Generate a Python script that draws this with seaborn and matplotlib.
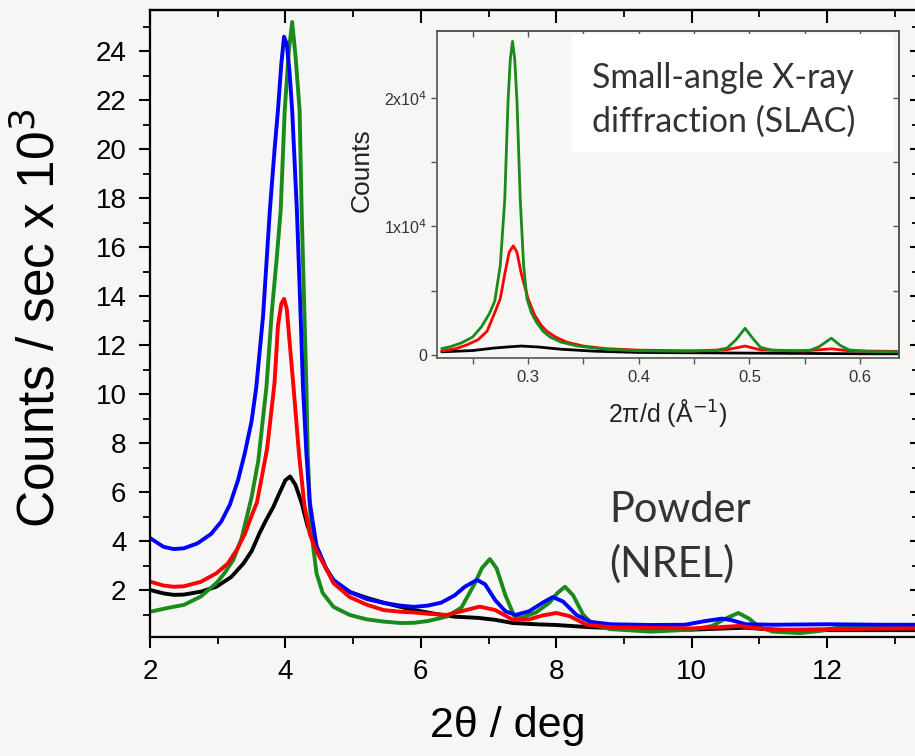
import matplotlib
matplotlib.use("Agg")
import matplotlib.pyplot as plt
import numpy as np
import pandas as pd
import seaborn as sns
from matplotlib.ticker import MultipleLocator, FixedLocator, FormatStrFormatter
from matplotlib.patches import Rectangle

sns.set_theme(style="ticks")
plt.rcParams["font.family"] = ["Liberation Sans", "DejaVu Sans"]

# ---------------- main panel data (2theta / deg, counts/sec x 1e3) ----------------
blue_x = [2.0, 2.2, 2.35, 2.5, 2.7, 2.9, 3.05, 3.18, 3.3, 3.4, 3.5, 3.57, 3.67, 3.77, 3.84, 3.89, 3.94,
          3.98, 4.02, 4.06, 4.10, 4.17, 4.22, 4.26, 4.31, 4.36, 4.46, 4.6, 4.71, 4.95, 5.2, 5.45, 5.7,
          5.9, 6.1, 6.3, 6.5, 6.65, 6.83, 6.95, 7.1, 7.25, 7.4, 7.6, 7.8, 7.95, 8.1, 8.3, 8.5, 8.8,
          9.4, 9.9, 10.2, 10.45, 10.6, 10.8, 11.2, 12.0, 12.8, 13.4]
blue_y = [4.14, 3.78, 3.69, 3.72, 3.92, 4.3, 4.8, 5.5, 6.5, 7.6, 8.9, 10.3, 13.2, 17.5, 20.0, 21.6,
          23.5, 24.6, 24.3, 23.2, 21.6, 17.5, 13.6, 10.3, 7.6, 5.6, 3.8, 2.9, 2.43, 1.94, 1.65, 1.49,
          1.38, 1.33, 1.38, 1.5, 1.8, 2.15, 2.43, 2.25, 1.6, 1.15, 1.0, 1.15, 1.5, 1.73, 1.55, 1.0,
          0.72, 0.62, 0.59, 0.6, 0.75, 0.85, 0.78, 0.62, 0.6, 0.62, 0.6, 0.6]

green_x = [2.0, 2.25, 2.5, 2.75, 2.98, 3.1, 3.23, 3.35, 3.43, 3.5, 3.6, 3.72, 3.80, 3.87, 3.93, 3.99,
           4.05, 4.10, 4.15, 4.21, 4.24, 4.28, 4.31, 4.33, 4.36, 4.40, 4.46, 4.55, 4.71, 4.95, 5.2, 5.45,
           5.7, 5.9, 6.1, 6.38, 6.6, 6.8, 6.9, 7.02, 7.12, 7.25, 7.38, 7.5, 7.7, 7.9, 8.02, 8.13, 8.25,
           8.4, 8.55, 8.8, 9.4, 10.0, 10.3, 10.5, 10.69, 10.85, 11.0, 11.2, 11.6, 11.9, 12.2, 13.4]
green_y = [1.13, 1.28, 1.41, 1.75, 2.3, 2.7, 3.25, 4.1, 5.0, 5.8, 7.3, 10.3, 13.4, 15.5, 17.5, 21.6,
           24.0, 25.2, 23.8, 21.6, 17.5, 13.4, 10.3, 7.6, 5.5, 4.0, 2.7, 1.9, 1.33, 1.0, 0.82, 0.73,
           0.67, 0.68, 0.75, 0.93, 1.3, 2.3, 2.9, 3.28, 2.9, 1.8, 0.95, 0.9, 1.1, 1.5, 1.9, 2.15, 1.8,
           1.0, 0.6, 0.42, 0.32, 0.4, 0.55, 0.85, 1.08, 0.85, 0.5, 0.32, 0.26, 0.35, 0.5, 0.55]

red_x = [2.0, 2.2, 2.35, 2.5, 2.75, 2.98, 3.15, 3.28, 3.4, 3.48, 3.58, 3.67, 3.73, 3.78, 3.84, 3.89,
         3.94, 3.98, 4.02, 4.06, 4.12, 4.2, 4.28, 4.36, 4.46, 4.6, 4.71, 4.95, 5.2, 5.45, 5.7, 5.9, 6.1,
         6.38, 6.6, 6.87, 7.1, 7.36, 7.6, 7.8, 8.0, 8.2, 8.45, 8.8, 9.4, 10.0, 10.4, 10.7, 11.0, 11.35,
         12.0, 12.83, 13.4]
red_y = [2.36, 2.2, 2.15, 2.17, 2.35, 2.7, 3.1, 3.65, 4.3, 4.9, 5.6, 6.9, 7.8, 9.0, 10.5, 12.8,
         13.7, 13.9, 13.5, 12.2, 10.3, 7.6, 5.5, 4.3, 3.6, 2.9, 2.3, 1.73, 1.42, 1.2, 1.13, 1.1, 1.05,
         1.0, 1.15, 1.34, 1.2, 0.8, 0.82, 0.98, 1.08, 0.95, 0.6, 0.5, 0.47, 0.45, 0.5, 0.55, 0.45, 0.39,
         0.42, 0.44, 0.45]

black_x = [2.0, 2.2, 2.35, 2.5, 2.75, 2.98, 3.2, 3.38, 3.5, 3.62, 3.72, 3.82, 3.9, 4.0, 4.07, 4.15,
           4.24, 4.33, 4.46, 4.6, 4.71, 4.95, 5.2, 5.45, 5.7, 5.9, 6.2, 6.5, 6.85, 7.1, 7.36, 7.7, 8.0,
           8.5, 9.0, 9.5, 10.0, 10.5, 10.8, 11.2, 12.0, 12.8, 13.4]
black_y = [2.02, 1.88, 1.82, 1.83, 1.95, 2.15, 2.55, 3.1, 3.6, 4.35, 4.9, 5.4, 5.9, 6.5, 6.65, 6.3,
           5.57, 4.6, 3.8, 2.9, 2.4, 1.94, 1.7, 1.5, 1.33, 1.2, 1.05, 0.93, 0.88, 0.8, 0.67, 0.62, 0.59,
           0.5, 0.45, 0.42, 0.4, 0.45, 0.48, 0.4, 0.38, 0.38, 0.38]

# ---------------- inset data (2pi/d in 1/A, counts) ----------------
in_green_x = [0.222, 0.230, 0.240, 0.250, 0.258, 0.265, 0.270, 0.275, 0.279, 0.282, 0.284, 0.286,
              0.288, 0.290, 0.293, 0.296, 0.299, 0.303, 0.308, 0.3136, 0.320, 0.330, 0.345, 0.370,
              0.400, 0.440, 0.470, 0.480, 0.488, 0.496, 0.503, 0.510, 0.520, 0.540, 0.555, 0.563,
              0.574, 0.582, 0.590, 0.610, 0.636]
in_green_y = [500, 650, 950, 1400, 2200, 3200, 4200, 7000, 12100, 19800, 23000, 24400, 23000, 19800,
              12100, 7000, 4400, 3300, 2500, 1850, 1400, 1000, 700, 450, 330, 300, 350, 550, 1200,
              2080, 1300, 600, 380, 320, 380, 650, 1310, 750, 400, 260, 250]
in_red_x = [0.222, 0.235, 0.245, 0.255, 0.263, 0.270, 0.275, 0.279, 0.283, 0.2867, 0.290, 0.294,
            0.300, 0.306, 0.312, 0.317, 0.325, 0.335, 0.350, 0.370, 0.400, 0.450, 0.480, 0.496,
            0.510, 0.550, 0.574, 0.590, 0.636]
in_red_y = [300, 500, 800, 1200, 1850, 3300, 4400, 6300, 8000, 8490, 8000, 6300, 4400, 3100, 2300,
            1850, 1400, 1000, 700, 500, 380, 320, 420, 700, 400, 320, 480, 330, 280]
in_black_x = [0.222, 0.25, 0.27, 0.285, 0.294, 0.31, 0.33, 0.36, 0.40, 0.50, 0.60, 0.636]
in_black_y = [250, 350, 550, 650, 700, 620, 450, 300, 200, 150, 100, 100]

main_order = ["black", "green", "blue", "red"]
inset_order = ["black", "red", "green"]
palette = {"black": "#000000", "green": "#1a8a1a", "blue": "#0000ff", "red": "#ff0000"}

main_df = pd.concat([
    pd.DataFrame({"tt": black_x, "c": black_y, "s": "black"}),
    pd.DataFrame({"tt": green_x, "c": green_y, "s": "green"}),
    pd.DataFrame({"tt": blue_x, "c": blue_y, "s": "blue"}),
    pd.DataFrame({"tt": red_x, "c": red_y, "s": "red"}),
], ignore_index=True)
inset_df = pd.concat([
    pd.DataFrame({"q": in_black_x, "c": in_black_y, "s": "black"}),
    pd.DataFrame({"q": in_red_x, "c": in_red_y, "s": "red"}),
    pd.DataFrame({"q": in_green_x, "c": in_green_y, "s": "green"}),
], ignore_index=True)

W, H = 915, 756
BG = "#f6f6f4"
fig = plt.figure(figsize=(W / 100, H / 100), dpi=100, facecolor=BG)


def box(x0, ytop, x1, ybot):
    return [x0 / W, (H - ybot) / H, (x1 - x0) / W, (ybot - ytop) / H]


# ---------------- main axes ----------------
ax = fig.add_axes(box(150, 10, 918, 637))
ax.set_facecolor(BG)
for name in main_order:
    sub = main_df[main_df["s"] == name]
    sns.lineplot(data=sub, x="tt", y="c", color=palette[name], estimator=None, sort=False,
                 linewidth=2.8, ax=ax, legend=False)
ax.set_xlim(2, 2 + (918 - 150) / 67.7)
ax.set_ylim(0.1, 25.69)
ax.set_xlabel("")
ax.set_ylabel("")
ax.xaxis.set_major_locator(MultipleLocator(2))
ax.xaxis.set_minor_locator(MultipleLocator(1))
ax.yaxis.set_major_locator(MultipleLocator(2))
ax.yaxis.set_minor_locator(MultipleLocator(1))
ax.tick_params(which="major", direction="out", length=8, width=1.5, labelsize=20, pad=8,
               color="black", labelcolor="black")
ax.tick_params(axis="y", which="major", pad=9)
ax.tick_params(which="minor", direction="out", length=5, width=1.3, color="black")
for sp in ax.spines.values():
    sp.set_color("black")
    sp.set_linewidth(1.6)

secx = ax.secondary_xaxis("top")
secx.xaxis.set_major_locator(MultipleLocator(2))
secx.xaxis.set_minor_locator(MultipleLocator(1))
secx.tick_params(which="major", direction="in", length=9, width=1.5, labeltop=False, color="black")
secx.tick_params(which="minor", direction="in", length=5, width=1.3, labeltop=False, color="black")
secx.spines["top"].set_linewidth(1.6)
secy = ax.secondary_yaxis("right")
secy.yaxis.set_major_locator(MultipleLocator(2))
secy.yaxis.set_minor_locator(MultipleLocator(1))
secy.tick_params(which="major", direction="in", length=6, width=1.5, labelright=False, color="black")
secy.tick_params(which="minor", direction="in", length=4, width=1.3, labelright=False, color="black")

fig.text(40 / W, 1 - 318 / H, "Counts / sec x 10$^{3}$", rotation=90, ha="center", va="center",
         fontsize=37, color="black")
fig.text(508 / W, (H - 737) / H, "2\u03b8 / deg", ha="center", va="baseline", fontsize=31,
         color="black")

# annotation: Powder (NREL)
fig.text(609 / W, (H - 522) / H, "Powder", ha="left", va="baseline", fontsize=30,
         family=["Lato", "DejaVu Sans"], color="#333333")
fig.text(609 / W, (H - 577) / H, "(NREL)", ha="left", va="baseline", fontsize=30,
         family=["Lato", "DejaVu Sans"], color="#333333")

# ---------------- inset axes ----------------
axi = fig.add_axes(box(437, 31, 899, 358))
axi.set_facecolor(BG)
axi.add_patch(Rectangle((572 / W, (H - 152) / H), (893 - 572) / W, (152 - 34) / H,
                        transform=fig.transFigure, facecolor="white", edgecolor="none", zorder=0.5))
for name in inset_order:
    sub = inset_df[inset_df["s"] == name]
    sns.lineplot(data=sub, x="q", y="c", color=palette[name], estimator=None, sort=False,
                 linewidth=2.0, ax=axi, legend=False)
axi.set_xlim(0.2178, 0.6351)
axi.set_ylim(-230, 25200)
axi.set_xlabel("")
axi.set_ylabel("")
axi.xaxis.set_major_locator(FixedLocator([0.3, 0.4, 0.5, 0.6]))
axi.xaxis.set_minor_locator(FixedLocator([0.25, 0.35, 0.45, 0.55]))
axi.xaxis.set_major_formatter(FormatStrFormatter("%.1f"))
axi.yaxis.set_major_locator(FixedLocator([0, 10000, 20000]))
axi.yaxis.set_minor_locator(FixedLocator([5000, 15000]))
axi.set_yticklabels(["0", "1x10$^{4}$", "2x10$^{4}$"])
axi.tick_params(which="both", direction="out", length=4, width=1.0, color="#555555",
                labelcolor="#333333", pad=3)
axi.tick_params(axis="x", labelsize=12, pad=5)
axi.tick_params(axis="y", labelsize=11.5)
for sp in axi.spines.values():
    sp.set_color("#555555")
    sp.set_linewidth(1.2)
isx = axi.secondary_xaxis("top")
isx.xaxis.set_major_locator(FixedLocator([0.25, 0.3, 0.35, 0.4, 0.45, 0.5, 0.55, 0.6]))
isx.tick_params(direction="in", length=4, width=1.0, color="#555555", labeltop=False)
isx.spines["top"].set_color("#555555")
isy = axi.secondary_yaxis("right")
isy.yaxis.set_major_locator(FixedLocator([5000, 10000, 15000, 20000]))
isy.tick_params(direction="in", length=4, width=1.0, color="#555555", labelright=False)
isy.spines["right"].set_color("#555555")

fig.text(362 / W, 1 - 170 / H, "Counts", rotation=90, ha="center", va="center", fontsize=19,
         color="#222222")
fig.text(668 / W, (H - 422) / H, "2\u03c0/d (\u00c5$^{-1}$)", ha="center", va="baseline",
         fontsize=18, color="#222222")

fig.text(592 / W, (H - 88) / H, "Small-angle X-ray", ha="left", va="baseline", fontsize=24.5,
         family=["Lato", "DejaVu Sans"], color="#333333")
fig.text(592 / W, (H - 132) / H, "diffraction (SLAC)", ha="left", va="baseline", fontsize=24.5,
         family=["Lato", "DejaVu Sans"], color="#333333")

fig.savefig("out.png", dpi=100, facecolor=BG)
